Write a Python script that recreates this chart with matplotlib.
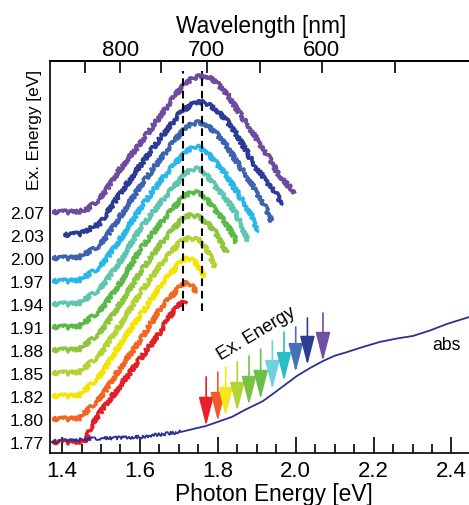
import matplotlib
matplotlib.use('Agg')
import matplotlib.pyplot as plt
from matplotlib.patches import FancyArrowPatch
from matplotlib.ticker import MultipleLocator, FixedLocator, FormatStrFormatter

plt.rcParams['font.family'] = ['Liberation Sans', 'DejaVu Sans']
plt.rcParams['lines.scale_dashes'] = False

# ---------------- data ----------------
ex_energies = [1.77, 1.80, 1.82, 1.85, 1.88, 1.91, 1.94, 1.97, 2.00, 2.03, 2.07]
ex_labels = ['1.77', '1.80', '1.82', '1.85', '1.88', '1.91', '1.94', '1.97', '2.00', '2.03', '2.07']

spec_colors = ['#e41e26', '#f26522', '#f5e400', '#b2d235', '#8cc63e', '#5cb947',
               '#5ec5b0', '#29b6e9', '#3d62b0', '#2b3b96', '#6d4c9f']

spec_E = [
    [1.374, 1.42, 1.462, 1.472, 1.498, 1.549, 1.600, 1.652, 1.677, 1.703, 1.721],
    [1.374, 1.42, 1.446, 1.498, 1.549, 1.600, 1.652, 1.703, 1.716, 1.729, 1.747],
    [1.374, 1.42, 1.446, 1.498, 1.549, 1.600, 1.652, 1.703, 1.720, 1.741, 1.767],
    [1.374, 1.42, 1.446, 1.498, 1.549, 1.600, 1.652, 1.703, 1.725, 1.754, 1.775, 1.793],
    [1.374, 1.42, 1.446, 1.498, 1.549, 1.600, 1.652, 1.703, 1.717, 1.730, 1.754, 1.775, 1.795, 1.824],
    [1.374, 1.42, 1.446, 1.498, 1.549, 1.600, 1.652, 1.703, 1.720, 1.735, 1.754, 1.772, 1.793, 1.815, 1.836, 1.849],
    [1.374, 1.42, 1.446, 1.498, 1.549, 1.600, 1.652, 1.703, 1.720, 1.740, 1.754, 1.772, 1.793, 1.820, 1.844, 1.860, 1.877],
    [1.374, 1.42, 1.446, 1.498, 1.549, 1.600, 1.652, 1.703, 1.725, 1.745, 1.770, 1.793, 1.820, 1.844, 1.865, 1.888, 1.903],
    [1.374, 1.42, 1.446, 1.498, 1.549, 1.600, 1.652, 1.703, 1.725, 1.750, 1.770, 1.793, 1.820, 1.844, 1.870, 1.895, 1.920, 1.939],
    [1.403, 1.446, 1.498, 1.549, 1.600, 1.652, 1.703, 1.730, 1.754, 1.770, 1.793, 1.820, 1.844, 1.870, 1.895, 1.920, 1.947, 1.965],
    [1.374, 1.42, 1.459, 1.498, 1.549, 1.600, 1.652, 1.703, 1.730, 1.754, 1.775, 1.793, 1.825, 1.857, 1.880, 1.908, 1.935, 1.960, 1.998],
]
spec_I = [
    [0.0, 0.0, 0.05, 0.57, 1.30, 2.43, 3.60, 4.78, 5.48, 6.00, 6.10],
    [0.0, 0.0, 0.05, 0.90, 2.20, 3.40, 4.80, 5.75, 5.90, 5.85, 5.50],
    [0.0, 0.0, 0.05, 0.87, 2.26, 3.48, 4.78, 5.80, 6.00, 5.85, 5.20],
    [0.0, 0.0, 0.05, 0.80, 2.10, 3.45, 4.70, 5.70, 5.85, 5.78, 5.30, 4.60],
    [0.0, 0.0, 0.05, 0.75, 2.00, 3.35, 4.60, 5.60, 5.78, 5.85, 5.78, 5.50, 5.10, 4.20],
    [0.0, 0.0, 0.05, 0.70, 1.90, 3.35, 4.50, 5.50, 5.75, 5.85, 5.83, 5.55, 5.10, 4.65, 4.10, 3.65],
    [0.0, 0.0, 0.05, 0.65, 1.85, 3.26, 4.40, 5.40, 5.72, 5.87, 5.87, 5.60, 5.13, 4.60, 4.00, 3.45, 2.74],
    [0.0, 0.0, 0.05, 0.60, 1.80, 3.13, 4.35, 5.35, 5.70, 5.85, 5.65, 5.20, 4.65, 4.00, 3.45, 2.80, 2.13],
    [0.0, 0.0, 0.05, 0.55, 1.80, 3.09, 4.30, 5.40, 5.75, 5.90, 5.80, 5.48, 4.95, 4.30, 3.65, 3.00, 2.25, 1.57],
    [0.0, 0.05, 0.50, 1.80, 3.00, 4.20, 5.30, 5.65, 5.78, 5.72, 5.48, 5.05, 4.48, 3.75, 3.00, 2.45, 1.87, 1.30],
    [0.0, 0.0, 0.05, 0.57, 1.87, 2.96, 4.17, 5.35, 5.75, 5.91, 5.88, 5.70, 5.10, 4.26, 3.70, 2.96, 2.25, 1.52, 0.85],
]

abs_E = [1.374, 1.472, 1.600, 1.703, 1.770, 1.836, 1.870, 1.916, 1.950, 2.003, 2.035, 2.070,
         2.100, 2.132, 2.170, 2.216, 2.260, 2.301, 2.345, 2.388, 2.420, 2.445]
abs_I = [0.0, 0.13, 0.22, 0.43, 0.70, 1.09, 1.40, 1.78, 2.20, 2.87, 3.20, 3.52,
         3.75, 3.91, 4.12, 4.35, 4.50, 4.61, 4.85, 5.13, 5.30, 5.43]

arrow_colors = ['#e8202a', '#f05a28', '#f4e81c', '#b5d334', '#7cc242', '#6cbf4a',
                '#6fd0e0', '#2cbcc8', '#4670b8', '#2e3c98', '#7050a2']
arrow_tip = [0.70, 0.91, 1.13, 1.35, 1.61, 1.87, 2.30, 2.65, 3.04, 3.35, 3.52]
arrow_top = [2.83, 3.04, 3.26, 3.48, 3.74, 4.04, 4.39, 4.78, 5.00, 5.39, 5.61]

peak_lines = [1.71, 1.76]
peak_line_y = [5.7, 16.13]

wl_major = [800, 700, 600]
wl_minor = [850, 750, 650, 550]
x_major = [1.4, 1.6, 1.8, 2.0, 2.2, 2.4]

# ---------------- figure ----------------
fig = plt.figure(figsize=(4.69, 5.06), dpi=100)
ax = fig.add_axes([50 / 469, (506 - 454) / 506, 419 / 469, 392 / 506])
ax.set_xlim(1.369, 2.445)
ax.set_ylim(-0.478, 16.565)

for i, (E, I) in enumerate(zip(spec_E, spec_I)):
    y = [v + i for v in I]
    ln, = ax.plot(E, y, color=spec_colors[i], lw=2.4, solid_joinstyle='round',
                  solid_capstyle='butt', zorder=2)
    ln.set_sketch_params(scale=2.0, length=1.0, randomness=2)

# absorption
n_noisy = 4
ln1, = ax.plot(abs_E[:n_noisy], abs_I[:n_noisy], color='#2e3192', lw=1.3, zorder=3)
ln1.set_sketch_params(scale=1.6, length=1.0, randomness=2)
ax.plot(abs_E[n_noisy - 1:], abs_I[n_noisy - 1:], color='#2e3192', lw=1.3, zorder=3,
        solid_joinstyle='round')

# dashed lines
for xv in peak_lines:
    ax.plot([xv, xv], peak_line_y, color='black', lw=1.5, dashes=(5.5, 3.5), zorder=4)

# arrows
for xe, yt, yb, c in zip(ex_energies, arrow_top, arrow_tip, arrow_colors):
    arr = FancyArrowPatch((xe, yt), (xe, yb),
                          arrowstyle='-|>,head_length=18,head_width=4.6',
                          mutation_scale=1, color=c, lw=1.2,
                          shrinkA=0, shrinkB=0, zorder=5)
    ax.add_patch(arr)

ax.text(1.90, 4.72, 'Ex. Energy', rotation=31, rotation_mode='anchor',
        ha='center', va='center', fontsize=13)
ax.text(2.35, 4.04, 'abs', ha='left', va='baseline', fontsize=12.7)

# axes styling
for s in ['left', 'top', 'bottom']:
    ax.spines[s].set_linewidth(1.2)
ax.spines['right'].set_visible(False)

ax.set_xticks(x_major)
ax.xaxis.set_major_formatter(FormatStrFormatter('%.1f'))
ax.xaxis.set_minor_locator(MultipleLocator(0.05))
ax.tick_params(axis='x', which='major', direction='in', length=11.5, width=1.2,
               labelsize=16, pad=5, top=False)
ax.tick_params(axis='x', which='minor', direction='in', length=6.5, width=1.2, top=False)

ax.set_yticks(range(len(ex_labels)))
ax.set_yticklabels(ex_labels)
ax.tick_params(axis='y', which='both', length=0, labelsize=12.6, pad=4.5)

sec = ax.secondary_xaxis('top', functions=(lambda e: 1239.84 / e, lambda w: 1239.84 / w))
sec.xaxis.set_major_locator(FixedLocator(wl_major))
sec.xaxis.set_minor_locator(FixedLocator(wl_minor))
sec.tick_params(which='major', direction='in', length=8.5, width=1.2, labelsize=16, pad=1)
sec.tick_params(which='minor', direction='in', length=8.5, width=1.2)
sec.spines['top'].set_linewidth(1.2)

fig.text(261 / 469, 1 - 33 / 506, 'Wavelength [nm]', ha='center', va='baseline', fontsize=16.4)
fig.text(274 / 469, 1 - 501 / 506, 'Photon Energy [eV]', ha='center', va='baseline', fontsize=16.4)
fig.text(35 / 469, 1 - 130 / 506, 'Ex. Energy [eV]', rotation=90, ha='center', va='center',
         fontsize=12.4)

fig.savefig('out.png', dpi=100)
